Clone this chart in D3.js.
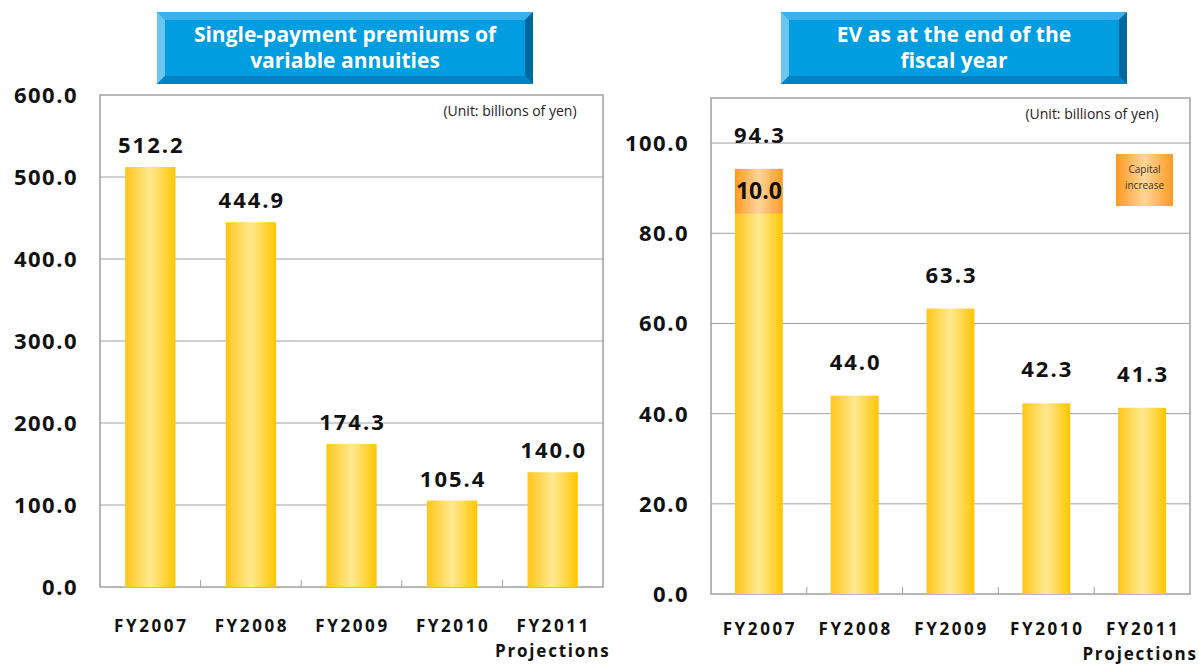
<!DOCTYPE html>
<html lang="en">
<head>
  <meta charset="UTF-8">
  <title>Variable annuities and EV</title>
  <script src="https://d3js.org/d3.v7.min.js"></script>
  <style>
    body { margin: 0; background: #fff; font-family: "Open Sans", "Noto Sans", sans-serif; }
    .tick-label { font-size: 22px; font-weight: 700; fill: #111; letter-spacing: 1.5px; }
    .value-label { font-size: 22px; font-weight: 700; fill: #111; letter-spacing: 2px; }
    .cat-label { font-size: 17px; font-weight: 700; fill: #111; letter-spacing: 2.6px; }
    .proj { letter-spacing: 1.8px; }
    .unit { font-size: 14px; fill: #222; }
    .title { font-size: 21px; font-weight: 700; fill: #fff; }
  </style>
</head>
<body>
  <div id="chart"></div>

  <script>
    // Data
    const years = ["FY2007", "FY2008", "FY2009", "FY2010", "FY2011"];
    const premiums = [512.2, 444.9, 174.3, 105.4, 140.0];
    const evBase = [84.3, 44.0, 63.3, 42.3, 41.3];
    const evCapital = [10.0, 0, 0, 0, 0];
    const evTotal = [94.3, 44.0, 63.3, 42.3, 41.3];
    const premiumTicks = [0, 100, 200, 300, 400, 500, 600];
    const evTicks = [0, 20, 40, 60, 80, 100];

    const svg = d3.select("#chart")
                  .append("svg")
                  .attr("width", 1199)
                  .attr("height", 664);

    // Gradients for bars
    const defs = svg.append("defs");
    function hGrad(id, edgeL, mid, edgeR) {
      const g = defs.append("linearGradient").attr("id", id)
                    .attr("x1", "0%").attr("x2", "100%").attr("y1", "0%").attr("y2", "0%");
      g.append("stop").attr("offset", "0%").attr("stop-color", edgeL);
      g.append("stop").attr("offset", "50%").attr("stop-color", mid);
      g.append("stop").attr("offset", "100%").attr("stop-color", edgeR);
    }
    hGrad("gold", "#ffc61a", "#ffe991", "#ffc600");
    hGrad("orange", "#ff9a22", "#ffd59a", "#ff9a22");

    // Beveled blue title box
    function titleBox(x0, y0, x1, y1, lines) {
      const b = 8;
      const g = svg.append("g");
      g.append("rect").attr("x", x0).attr("y", y0).attr("width", x1 - x0).attr("height", y1 - y0)
       .attr("fill", "#009ee0");
      const poly = (pts, c) => g.append("polygon").attr("points", pts.map(p => p.join(",")).join(" ")).attr("fill", c);
      poly([[x0, y0], [x1, y0], [x1 - b, y0 + b], [x0 + b, y0 + b]], "#3aafe8");
      poly([[x0, y0], [x0 + b, y0 + b], [x0 + b, y1 - b], [x0, y1]], "#6cc6f0");
      poly([[x1, y0], [x1, y1], [x1 - b, y1 - b], [x1 - b, y0 + b]], "#00689c");
      poly([[x0, y1], [x0 + b, y1 - b], [x1 - b, y1 - b], [x1, y1]], "#0082c4");
      const cx = (x0 + x1) / 2;
      lines.forEach((t, i) => {
        g.append("text").attr("class", "title")
         .attr("x", cx).attr("y", y0 + 30 + i * 26)
         .attr("text-anchor", "middle").text(t);
      });
    }

    function panel(cfg) {
      const x = d3.scaleBand().domain(years).range([cfg.left, cfg.right]).paddingInner(0).paddingOuter(0);
      const y = d3.scaleLinear().domain(cfg.domain).range([cfg.bottom, cfg.top]);
      const g = svg.append("g");

      // gridlines
      g.selectAll(".grid").data(cfg.ticks.filter(t => t > 0 && t < cfg.domain[1]))
       .join("line")
       .attr("x1", cfg.left).attr("x2", cfg.right)
       .attr("y1", d => y(d)).attr("y2", d => y(d))
       .attr("stroke", "#a0a0a0").attr("stroke-width", 1);

      // frame
      g.append("rect").attr("x", cfg.left).attr("y", cfg.top)
       .attr("width", cfg.right - cfg.left).attr("height", cfg.bottom - cfg.top)
       .attr("fill", "none").attr("stroke", "#a0a0a0").attr("stroke-width", 1.5);

      // category separators (inward ticks)
      g.selectAll(".sep").data(years.slice(1))
       .join("line")
       .attr("x1", d => x(d)).attr("x2", d => x(d))
       .attr("y1", cfg.bottom).attr("y2", cfg.bottom - 7)
       .attr("stroke", "#a0a0a0").attr("stroke-width", 1);

      // y tick labels
      g.selectAll(".tick-label").data(cfg.ticks)
       .join("text").attr("class", "tick-label")
       .attr("x", cfg.labelX).attr("y", d => y(d) + 8)
       .attr("text-anchor", "end")
       .text(d => d3.format(".1f")(d));

      const bw = x.bandwidth() * 0.5;
      const bx = d => x(d) + (x.bandwidth() - bw) / 2;

      // base bars
      g.selectAll(".bar").data(years)
       .join("rect")
       .attr("x", d => bx(d)).attr("width", bw)
       .attr("y", (d, i) => y(cfg.base[i]))
       .attr("height", (d, i) => y(0) - y(cfg.base[i]))
       .attr("fill", "url(#gold)");

      // stacked segments
      if (cfg.extra) {
        g.selectAll(".extra").data(years.filter((d, i) => cfg.extra[i] > 0))
         .join("rect")
         .attr("x", d => bx(d)).attr("width", bw)
         .attr("y", d => { const i = years.indexOf(d); return y(cfg.base[i] + cfg.extra[i]); })
         .attr("height", d => { const i = years.indexOf(d); return y(cfg.base[i]) - y(cfg.base[i] + cfg.extra[i]); })
         .attr("fill", "url(#orange)");
        g.selectAll(".extra-label").data(years.filter((d, i) => cfg.extra[i] > 0))
         .join("text").attr("class", "value-label")
         .attr("x", d => x(d) + x.bandwidth() / 2)
         .attr("y", d => { const i = years.indexOf(d); return y(cfg.base[i] + cfg.extra[i] / 2) + 8; })
         .attr("text-anchor", "middle").style("font-size", "23px").style("letter-spacing", "0px")
         .text(d => d3.format(".1f")(cfg.extra[years.indexOf(d)]));
      }

      // value labels
      g.selectAll(".value-label.top").data(years)
       .join("text").attr("class", "value-label top")
       .attr("x", d => x(d) + x.bandwidth() / 2 + 1)
       .attr("y", (d, i) => y(cfg.total[i]) - cfg.labelGap)
       .attr("text-anchor", "middle")
       .text((d, i) => d3.format(".1f")(cfg.total[i]));

      // category labels
      g.selectAll(".cat-label").data(years)
       .join("text").attr("class", "cat-label")
       .attr("x", d => x(d) + x.bandwidth() / 2 + 1)
       .attr("y", cfg.catY)
       .attr("text-anchor", "middle")
       .text(d => d);
      g.append("text").attr("class", "cat-label proj")
       .attr("x", x("FY2011") + x.bandwidth() / 2 + cfg.projShift)
       .attr("y", cfg.catY + 25)
       .attr("text-anchor", "middle")
       .text("Projections");

      // unit note
      g.append("text").attr("class", "unit")
       .attr("x", cfg.unitX).attr("y", cfg.top + 21)
       .attr("text-anchor", "middle")
       .text("(Unit: billions of yen)");

      return { x, y };
    }

    titleBox(157, 12, 533, 84, ["Single-payment premiums of", "variable annuities"]);
    titleBox(781, 12, 1127, 84, ["EV as at the end of the", "fiscal year"]);

    panel({
      left: 100, right: 603, top: 95, bottom: 587,
      domain: [0, 600], ticks: premiumTicks,
      base: premiums, total: premiums,
      labelX: 78, labelGap: 14, catY: 632, unitX: 510, projShift: 0
    });

    panel({
      left: 711, right: 1190, top: 98, bottom: 594,
      domain: [0, 110], ticks: evTicks,
      base: evBase, extra: evCapital, total: evTotal,
      labelX: 689, labelGap: 26, catY: 635, unitX: 1092, projShift: -2
    });

    // legend for capital increase
    const lg = svg.append("g");
    lg.append("rect").attr("x", 1116).attr("y", 154).attr("width", 57).attr("height", 52)
      .attr("fill", "url(#orange)");
    ["Capital", "increase"].forEach((t, i) => {
      lg.append("text").attr("x", 1144.5).attr("y", 173 + i * 16)
        .attr("text-anchor", "middle").style("font-size", "10px").attr("fill", "#333")
        .text(t);
    });
  </script>
</body>
</html>
